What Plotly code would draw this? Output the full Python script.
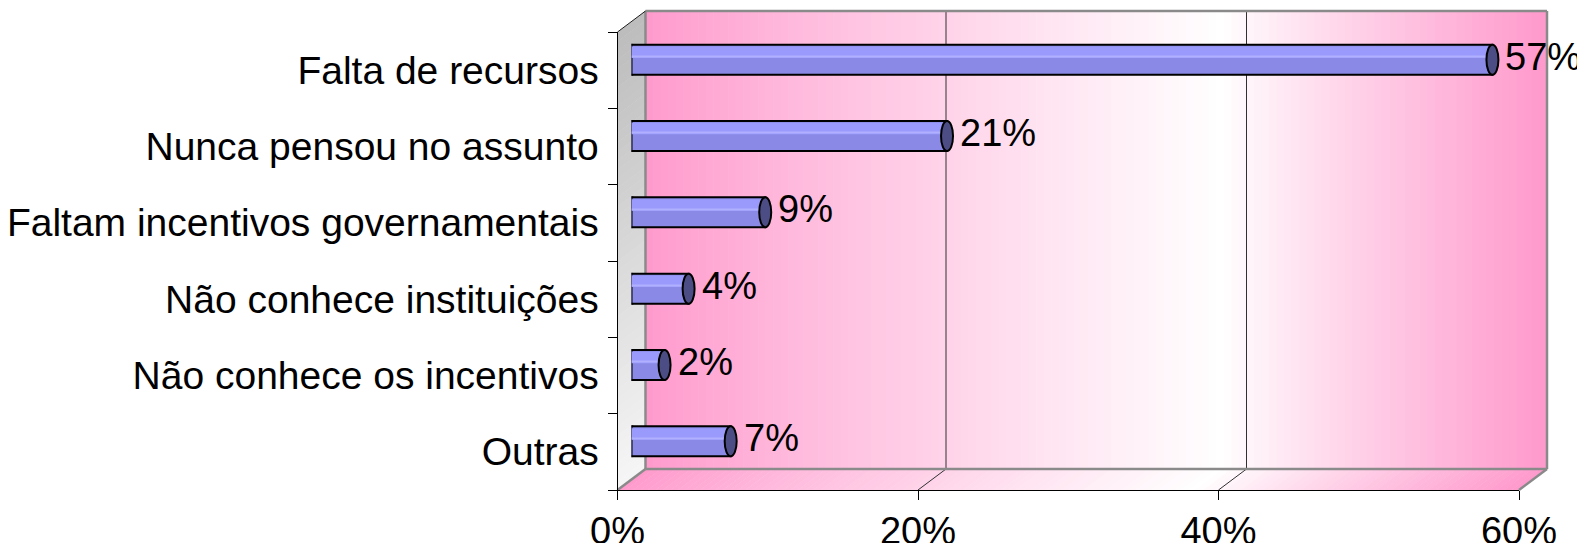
import plotly.graph_objects as go

# ---------------- data ----------------
categories = ["Falta de recursos", "Nunca pensou no assunto", "Faltam incentivos governamentais",
              "Não conhece instituições", "Não conhece os incentivos", "Outras"]
values = [57.3, 21.0, 8.9, 3.8, 2.2, 6.6]
value_labels = ["57%", "21%", "9%", "4%", "2%", "7%"]
x_ticks = [0, 20, 40, 60]
x_tick_labels = ["0%", "20%", "40%", "60%"]

# ---------------- geometry (page pixels) ----------------
W, H = 1585, 543
OFF = 8.0                     # page body margin of the html output
FX0, FX1 = 617.5, 1519.0      # front plane x of 0 and 60
FY_TOP, FY_BOT = 32.0, 490.0  # front plane top / bottom
DX, DY = 28.0, 21.0           # depth offset
XMAX = 60.0
N = len(categories)

def px(x):
    return (x - OFF) / W

def py(y):
    return 1 - (y - OFF) / H

def front_x(v):
    return FX0 + (FX1 - FX0) * v / XMAX

PINK = (255, 153, 204)
WHITE = (255, 255, 255)

def mix(c1, c2, f):
    return "rgb(%d,%d,%d)" % tuple(round(a + (b - a) * f) for a, b in zip(c1, c2))

def wall_color(t):
    m = 0.64
    if t <= m:
        f = (t / m) ** 0.85
        return mix(PINK, WHITE, f)
    f = ((t - m) / (1 - m)) ** 0.9
    return mix(WHITE, PINK, f)

shapes = []

# back wall gradient strips
NS = 120
for k in range(NS):
    t0, t1 = k / NS, (k + 1) / NS
    x0 = front_x(t0 * XMAX) + DX
    x1 = front_x(t1 * XMAX) + DX + 0.6
    shapes.append(dict(type="rect", xref="paper", yref="paper", layer="below",
                       x0=px(x0), x1=px(x1), y0=py(FY_BOT - DY), y1=py(FY_TOP - DY),
                       fillcolor=wall_color((t0 + t1) / 2), line=dict(width=0)))
# floor gradient strips (parallelograms)
for k in range(NS):
    t0, t1 = k / NS, (k + 1) / NS
    a = front_x(t0 * XMAX)
    b = front_x(t1 * XMAX) + 0.6
    path = "M %f %f L %f %f L %f %f L %f %f Z" % (
        px(a), py(FY_BOT), px(b), py(FY_BOT), px(b + DX), py(FY_BOT - DY), px(a + DX), py(FY_BOT - DY))
    shapes.append(dict(type="path", xref="paper", yref="paper", layer="below", path=path,
                       fillcolor=wall_color((t0 + t1) / 2), line=dict(width=0)))
# left wall gray gradient
NL = 50
top_c, bot_c = (188, 188, 188), (246, 246, 246)
for k in range(NL):
    f0, f1 = k / NL, (k + 1) / NL
    y0 = FY_TOP + (FY_BOT - FY_TOP) * f0
    y1 = FY_TOP + (FY_BOT - FY_TOP) * f1 + 0.6
    path = "M %f %f L %f %f L %f %f L %f %f Z" % (
        px(FX0), py(y0), px(FX0 + DX), py(y0 - DY), px(FX0 + DX), py(y1 - DY), px(FX0), py(y1))
    shapes.append(dict(type="path", xref="paper", yref="paper", layer="below", path=path,
                       fillcolor=mix(top_c, bot_c, (f0 + f1) / 2), line=dict(width=0)))

GRAY = "#8a8a8a"
def seg(x0, y0, x1, y1, color, width):
    shapes.append(dict(type="line", xref="paper", yref="paper", layer="below",
                       x0=px(x0), y0=py(y0), x1=px(x1), y1=py(y1),
                       line=dict(color=color, width=width)))

# gridlines on back wall and floor
for v in x_ticks[1:-1]:
    bx = front_x(v) + DX
    seg(bx, FY_TOP - DY, bx, FY_BOT - DY, "#303030", 1)
    seg(front_x(v), FY_BOT, bx, FY_BOT - DY, "#303030", 1)

# back wall border
seg(FX0 + DX, FY_TOP - DY, FX1 + DX, FY_TOP - DY, GRAY, 2.5)
seg(FX1 + DX, FY_TOP - DY, FX1 + DX, FY_BOT - DY, GRAY, 2.5)
seg(FX0 + DX, FY_BOT - DY, FX1 + DX, FY_BOT - DY, GRAY, 2.5)
seg(FX0 + DX, FY_TOP - DY, FX0 + DX, FY_BOT - DY, GRAY, 2.5)
# floor edges
seg(FX1, FY_BOT, FX1 + DX, FY_BOT - DY, GRAY, 2.5)
seg(FX0, FY_BOT, FX0 + DX, FY_BOT - DY, GRAY, 2.5)
# left wall top edge
seg(FX0, FY_TOP, FX0 + DX, FY_TOP - DY, "#202020", 1)

# cylinder geometry in data units
BAR_W = 0.394
CAP_HALF_X = 6.0 / ((FX1 - FX0) / XMAX)   # 6 px in value units
BODY = "#8a8ae6"
CAP = "#4d4d85"
positions = list(range(N))

# left rounded ends (under the bars)
for v, p in zip(values, positions):
    shapes.append(dict(type="circle", xref="x2", yref="y2", layer="below",
                       x0=-CAP_HALF_X, x1=CAP_HALF_X, y0=p - BAR_W / 2, y1=p + BAR_W / 2,
                       fillcolor=BODY, line=dict(color="black", width=2)))
# right caps (over the bars)
for v, p in zip(values, positions):
    shapes.append(dict(type="circle", xref="x2", yref="y2", layer="above",
                       x0=v - CAP_HALF_X, x1=v + CAP_HALF_X, y0=p - BAR_W / 2, y1=p + BAR_W / 2,
                       fillcolor=CAP, line=dict(color="black", width=2)))

fig = go.Figure()
# invisible trace to establish front axes
fig.add_trace(go.Scatter(x=[None], y=[None], xaxis="x", yaxis="y", showlegend=False, hoverinfo="skip"))
# cylinder body
fig.add_trace(go.Bar(x=values, y=positions, orientation="h", width=BAR_W,
                     marker=dict(color=BODY, line=dict(color="black", width=2)),
                     xaxis="x2", yaxis="y2", showlegend=False, hoverinfo="skip"))
# highlight band (top part of the cylinder)
fig.add_trace(go.Bar(x=values, y=positions, orientation="h", width=0.15, offset=-BAR_W / 2 + 0.025,
                     marker=dict(color="#9a9afc", line=dict(width=0)),
                     xaxis="x2", yaxis="y2", showlegend=False, hoverinfo="skip"))
fig.add_trace(go.Bar(x=values, y=positions, orientation="h", width=0.018, offset=-0.05,
                     marker=dict(color="#b0b0ff", line=dict(width=0)),
                     xaxis="x2", yaxis="y2", showlegend=False, hoverinfo="skip"))

LBL_FONT = dict(family="Liberation Sans, Arial, sans-serif", size=38, color="black")
annotations = []
for v, p, lab in zip(values, positions, value_labels):
    annotations.append(dict(x=v, y=p, xref="x2", yref="y2", text=lab, showarrow=False,
                            xanchor="left", yanchor="middle", xshift=11, yshift=3,
                            font=LBL_FONT))

FONT = dict(family="Liberation Sans, Arial, sans-serif", size=38, color="black")

fig.update_layout(
    width=W, height=H,
    margin=dict(l=0, r=0, t=0, b=0, autoexpand=False),
    paper_bgcolor="white", plot_bgcolor="rgba(0,0,0,0)",
    barmode="overlay",
    shapes=shapes, annotations=annotations,
    font=FONT,
    xaxis=dict(domain=[px(FX0), px(FX1)], range=[0, XMAX], tickvals=x_ticks, ticktext=x_tick_labels,
               ticks="outside", ticklen=9, tickcolor="black", tickwidth=1, ticklabelstandoff=-2,
               showline=True, linecolor="black", linewidth=1, showgrid=False, zeroline=False,
               tickfont=FONT, anchor="y", fixedrange=True, automargin=False),
    yaxis=dict(domain=[py(FY_BOT), py(FY_TOP)], range=[N - 0.5, -0.5], tickvals=positions,
               ticktext=categories, ticks="", ticklabelstandoff=10,
               minor=dict(tickvals=[i - 0.5 for i in range(N + 1)], ticks="outside", ticklen=9,
                          tickcolor="black", tickwidth=1, showgrid=False),
               showline=True, linecolor="black", linewidth=1, showgrid=False, zeroline=False,
               tickfont=dict(family="Liberation Sans, Arial, sans-serif", size=39, color="black"),
               anchor="x", fixedrange=True, automargin=False),
    # mid-depth axes for the cylinders (independent domains, shifted by half the depth)
    xaxis2=dict(domain=[px(FX0 + DX / 2), px(FX1 + DX / 2)], range=[0, XMAX],
                anchor="y2", visible=False, fixedrange=True, automargin=False),
    yaxis2=dict(domain=[py(FY_BOT - DY / 2), py(FY_TOP - DY / 2)], range=[N - 0.5, -0.5],
                anchor="x2", visible=False, fixedrange=True, automargin=False),
)

fig.write_html("out.html")
